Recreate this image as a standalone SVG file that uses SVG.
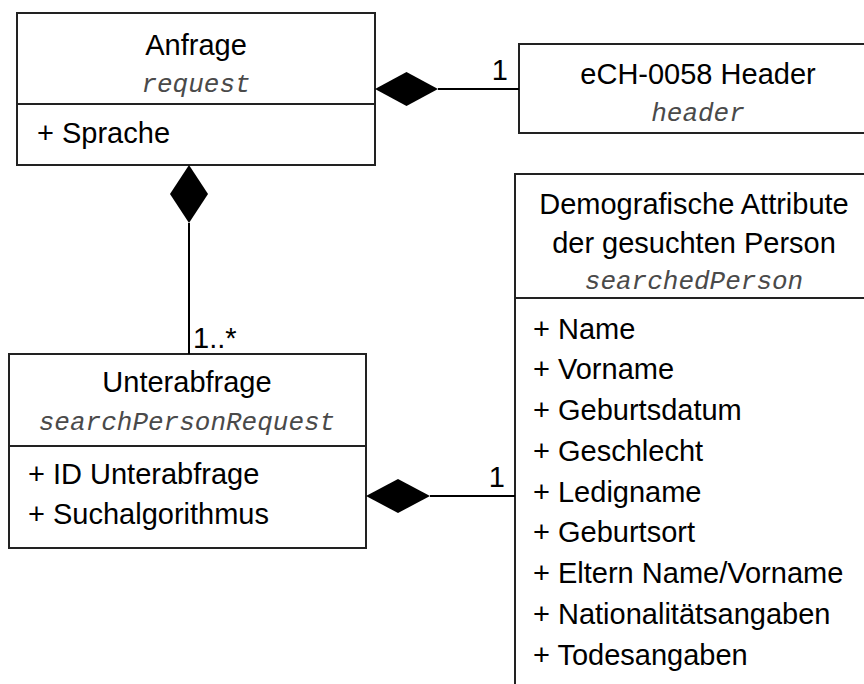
<svg xmlns="http://www.w3.org/2000/svg" width="864" height="684" viewBox="0 0 864 684">
<style>
.box{fill:#fff;stroke:#222;stroke-width:2}
.div{stroke:#222;stroke-width:2}
.t{font-family:"Liberation Sans",Arial,sans-serif;font-size:29px;fill:#000}
.c{text-anchor:middle}
.m{font-family:"Liberation Mono","Courier New",monospace;font-style:italic;font-size:26px;fill:#4a4a4a;text-anchor:middle}
.ln{stroke:#000;stroke-width:2;fill:none}
.dia{fill:#000;stroke:none}
</style>
<rect width="864" height="684" fill="#fff"/>
<g id="anfrage">
<rect class="box" x="17" y="13" width="358" height="152"/>
<line class="div" x1="17" y1="104" x2="375" y2="104"/>
<text class="t c" x="196" y="55">Anfrage</text>
<text class="m" x="196" y="92">request</text>
<text class="t" x="37" y="143">+ Sprache</text>
</g>
<g id="header">
<rect class="box" x="519" y="44" width="360" height="89"/>
<text class="t c" x="698" y="84">eCH-0058 Header</text>
<text class="m" x="698" y="121">header</text>
</g>
<g id="searchedPerson">
<rect class="box" x="515" y="174" width="370" height="530"/>
<line class="div" x1="515" y1="298" x2="864" y2="298"/>
<text class="t c" x="694" y="214">Demografische Attribute</text>
<text class="t c" x="694" y="253">der gesuchten Person</text>
<text class="m" x="694" y="289">searchedPerson</text>
<text class="t" x="533" y="339">+ Name</text>
<text class="t" x="533" y="379">+ Vorname</text>
<text class="t" x="533" y="420">+ Geburtsdatum</text>
<text class="t" x="533" y="461">+ Geschlecht</text>
<text class="t" x="533" y="502">+ Ledigname</text>
<text class="t" x="533" y="542">+ Geburtsort</text>
<text class="t" x="533" y="583">+ Eltern Name/Vorname</text>
<text class="t" x="533" y="624">+ Nationalitätsangaben</text>
<text class="t" x="533" y="665">+ Todesangaben</text>
</g>
<g id="unterabfrage">
<rect class="box" x="9" y="354" width="357" height="194"/>
<line class="div" x1="9" y1="446" x2="366" y2="446"/>
<text class="t c" x="187" y="392">Unterabfrage</text>
<text class="m" x="187" y="430">searchPersonRequest</text>
<text class="t" x="28" y="484">+ ID Unterabfrage</text>
<text class="t" x="28" y="524">+ Suchalgorithmus</text>
</g>
<g id="connectors">
<line class="ln" x1="438" y1="89" x2="519" y2="89"/>
<polygon class="dia" points="375,89 406.5,72 438,89 406.5,106"/>
<text class="t" x="508" y="80" text-anchor="end">1</text>
<line class="ln" x1="189" y1="223" x2="189" y2="354"/>
<polygon class="dia" points="189,165 208,194 189,223 170,194"/>
<text class="t" x="193" y="348">1..*</text>
<line class="ln" x1="430" y1="496" x2="515" y2="496"/>
<polygon class="dia" points="366,496 398,479 430,496 398,513"/>
<text class="t" x="505" y="487" text-anchor="end">1</text>
</g>
</svg>
